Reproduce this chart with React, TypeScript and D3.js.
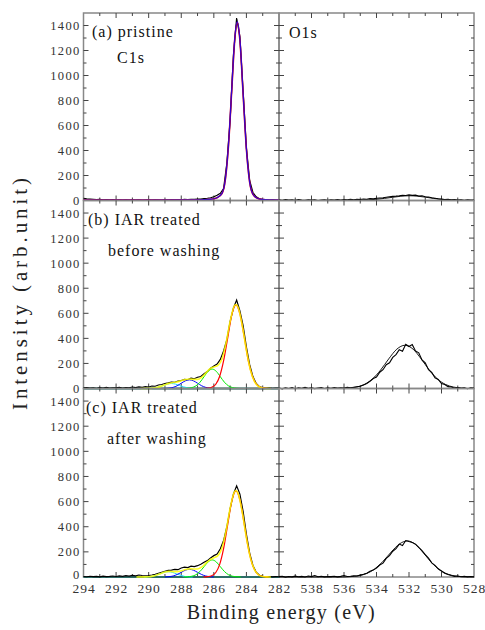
import React, { useEffect, useRef } from "react";
import * as d3 from "d3";

type Pt = [number, number];

// energy grids of the measured spectra (eV)
const c1sEnergy = [
  294.0, 293.8, 293.6, 293.4, 293.2, 293.0, 292.8, 292.6, 292.4, 292.2,
  292.0, 291.8, 291.6, 291.4, 291.2, 291.0, 290.8, 290.6, 290.4, 290.2,
  290.0, 289.8, 289.6, 289.4, 289.2, 289.0, 288.8, 288.6, 288.4, 288.2,
  288.0, 287.8, 287.6, 287.4, 287.2, 287.0, 286.8, 286.6, 286.4, 286.2,
  286.0, 285.8, 285.6, 285.4, 285.2, 285.0, 284.8, 284.6, 284.4, 284.2,
  284.0, 283.8, 283.6, 283.4, 283.2, 283.0, 282.8, 282.6, 282.4, 282.2, 282.0,
];
const o1sEnergy = [
  540.0, 539.8, 539.6, 539.4, 539.2, 539.0, 538.8, 538.6, 538.4, 538.2,
  538.0, 537.8, 537.6, 537.4, 537.2, 537.0, 536.8, 536.6, 536.4, 536.2,
  536.0, 535.8, 535.6, 535.4, 535.2, 535.0, 534.8, 534.6, 534.4, 534.2,
  534.0, 533.8, 533.6, 533.4, 533.2, 533.0, 532.8, 532.6, 532.4, 532.2,
  532.0, 531.8, 531.6, 531.4, 531.2, 531.0, 530.8, 530.6, 530.4, 530.2,
  530.0, 529.8, 529.6, 529.4, 529.2, 529.0, 528.8, 528.6, 528.4, 528.2, 528.0,
];

// measured intensities
const rawC1sA = [
  18, 14, 12, 10, 8, 9, 6, 8, 5, 7, 4, 6, 3, 5, 4, 6, 3, 5, 2, 4,
  6, 3, 5, 4, 2, 6, 4, 7, 5, 8, 6, 9, 7, 10, 9, 12, 11, 15, 18, 22,
  30, 42, 58, 95, 300, 640, 1160, 1460, 1310, 870, 420, 160, 64, 30, 14, 8, 6, 4, 5, 3, 4,
];
const rawC1sB = [
  5, 8, 3, 6, 2, 7, 4, 9, 3, 6, 5, 10, 4, 8, 6, 12, 7, 13, 9, 15,
  12, 20, 18, 28, 32, 40, 45, 52, 50, 60, 64, 72, 70, 82, 78, 90, 96, 118, 135, 162,
  180, 195, 232, 300, 390, 535, 640, 706, 620, 500, 330, 190, 95, 40, 15, 6, 3, 5, 2, 4, 3,
];
const rawC1sC = [
  4, 2, 6, 3, 5, 1, 7, 3, 5, 8, 4, 9, 5, 11, 7, 13, 9, 16, 12, 10,
  12, 16, 22, 30, 38, 45, 52, 55, 60, 58, 72, 78, 75, 86, 82, 90, 102, 118, 130, 152,
  170, 182, 225, 290, 400, 545, 660, 726, 660, 520, 340, 190, 92, 38, 14, 5, 2, 4, 1, 3, 2,
];
const rawO1sA = [
  6, 2, 8, 3, 5, 1, 7, 4, 2, 6, 3, 5, 0, 4, 6, 2, 5, 3, 7, 4,
  8, 5, 9, 6, 10, 8, 12, 10, 15, 13, 18, 20, 22, 26, 30, 33, 35, 38, 42, 40,
  45, 41, 43, 36, 38, 30, 28, 22, 18, 14, 12, 8, 10, 5, 7, 3, 6, 2, 5, 3, 4,
];
const rawO1sB = [
  4, -3, 6, 0, 8, -2, 5, 2, 9, 1, 6, -1, 4, 7, 0, 5, 2, 8, 3, 6,
  4, 9, 5, 10, 14, 18, 28, 40, 58, 80, 92, 130, 150, 190, 205, 248, 270, 310, 298, 352,
  335, 350, 300, 285, 228, 205, 150, 128, 85, 72, 40, 32, 15, 12, 4, 8, 1, 5, -2, 6, 3,
];
const rawO1sC = [
  3, 6, -1, 4, 1, 7, 2, 5, 0, 8, 3, 12, 2, 6, 1, 4, 3, 6, 1, 5,
  12, 4, 6, 10, 8, 15, 22, 30, 45, 55, 72, 95, 110, 148, 170, 205, 225, 262, 250, 290,
  282, 275, 262, 235, 210, 178, 150, 112, 92, 65, 48, 30, 20, 12, 5, 8, 2, 5, 1, 4, 2,
];

// fitted components [energy, intensity]
const fitARed: Pt[] = [[294, 3], [290, 3], [287, 5], [286.2, 10], [285.8, 22], [285.5, 55], [285.3, 160], [285.1, 440], [284.9, 885], [284.7, 1312], [284.56, 1425], [284.4, 1282], [284.2, 845], [284.0, 410], [283.8, 145], [283.6, 50], [283.3, 16], [283, 8], [282, 2]];
const fitABlue: Pt[] = [[294, 3], [290, 3], [287, 5], [286.2, 10], [285.8, 22], [285.5, 57], [285.3, 162], [285.1, 445], [284.9, 892], [284.7, 1320], [284.56, 1430], [284.4, 1288], [284.2, 850], [284.0, 412], [283.8, 146], [283.6, 50], [283.3, 16], [283, 8], [282, 2]];

const redB: Pt[] = [[286.64, 0], [286.39, 3], [286.14, 10], [285.89, 32], [285.64, 98], [285.39, 228], [285.14, 410], [284.89, 592], [284.64, 668], [284.39, 590], [284.14, 415], [283.89, 225], [283.64, 100], [283.39, 35], [283.14, 10], [282.89, 4], [282.64, 0]];
const greenB: Pt[] = [[287.85, 0], [287.6, 2], [287.35, 7], [287.1, 21], [286.85, 50], [286.6, 94], [286.35, 137], [286.1, 155], [285.85, 137], [285.6, 94], [285.35, 50], [285.1, 21], [284.85, 7], [284.6, 2], [284.35, 0]];
const blueB: Pt[] = [[289.0, 0], [288.75, 3], [288.5, 9], [288.25, 22], [288.0, 42], [287.75, 61], [287.5, 69], [287.25, 61], [287.0, 42], [286.75, 22], [286.5, 9], [286.25, 3], [286.0, 0]];
const cyanB: Pt[] = [[290.1, 0], [289.85, 2], [289.6, 5], [289.35, 13], [289.1, 24], [288.85, 35], [288.6, 40], [288.35, 35], [288.1, 24], [287.85, 13], [287.6, 5], [287.35, 2], [287.1, 0]];
const sumB: Pt[] = [[290.5, 0], [290, 1], [289.75, 3], [289.5, 8], [289.25, 17], [289, 30], [288.75, 41], [288.5, 48], [288.25, 53], [288, 62], [287.75, 71], [287.5, 76], [287.25, 73], [287, 73], [286.75, 89], [286.5, 123], [286.25, 156], [286, 172], [285.75, 184], [285.5, 236], [285.25, 364], [285, 535], [284.75, 657], [284.64, 670], [284.5, 644], [284.25, 499], [284, 304], [283.75, 146], [283.5, 55], [283.25, 16], [283, 4], [282.75, 1], [282.5, 0]];

const redC: Pt[] = [[286.64, 0], [286.39, 3], [286.14, 10], [285.89, 34], [285.64, 100], [285.39, 233], [285.14, 425], [284.89, 608], [284.64, 686], [284.39, 608], [284.14, 425], [283.89, 233], [283.64, 100], [283.39, 34], [283.14, 10], [282.89, 3], [282.64, 0]];
const greenC: Pt[] = [[287.85, 0], [287.6, 2], [287.35, 6], [287.1, 18], [286.85, 44], [286.6, 82], [286.35, 120], [286.1, 136], [285.85, 120], [285.6, 82], [285.35, 44], [285.1, 18], [284.85, 6], [284.6, 2], [284.35, 0]];
const blueC: Pt[] = [[289.0, 0], [288.75, 3], [288.5, 8], [288.25, 20], [288.0, 37], [287.75, 54], [287.5, 61], [287.25, 54], [287.0, 37], [286.75, 20], [286.5, 8], [286.25, 3], [286.0, 0]];
const cyanC: Pt[] = [[290.3, 0], [290.05, 1], [289.8, 5], [289.55, 14], [289.3, 25], [289.05, 37], [288.8, 42], [288.55, 37], [288.3, 25], [288.05, 14], [287.8, 5], [287.55, 1], [287.3, 0]];
const sumC: Pt[] = [[290.75, 0], [290.25, 1], [290, 2], [289.75, 7], [289.5, 16], [289.25, 28], [289, 40], [288.75, 45], [288.5, 43], [288.25, 43], [288, 49], [287.75, 59], [287.5, 65], [287.25, 64], [287, 64], [286.75, 79], [286.5, 108], [286.25, 137], [286, 153], [285.75, 170], [285.5, 231], [285.25, 367], [285, 547], [284.75, 674], [284.64, 688], [284.5, 661], [284.25, 512], [284, 312], [283.75, 150], [283.5, 56], [283.25, 17], [283, 4], [282.75, 1], [282.5, 0]];

const fitO1sA: Pt[] = [[540, 0], [536, 0], [535.5, 1], [535, 2], [534.5, 5], [534, 10], [533.5, 17], [533, 26], [532.5, 34], [532, 38], [531.5, 35], [531, 27], [530.5, 17], [530, 9], [529.5, 4], [529, 1], [528.5, 0], [528, 0]];
const fitO1sB: Pt[] = [[540, 0], [536.25, 0], [535.75, 3], [535.25, 11], [534.75, 32], [534.25, 76], [533.75, 147], [533.25, 236], [532.75, 314], [532.25, 345], [531.75, 314], [531.25, 236], [530.75, 147], [530.25, 76], [529.75, 32], [529.25, 11], [528.75, 3], [528.25, 0], [528, 0]];
const fitO1sC: Pt[] = [[540, 0], [536.1, 0], [535.6, 3], [535.1, 10], [534.6, 28], [534.1, 65], [533.6, 125], [533.1, 198], [532.6, 262], [532.1, 287], [531.6, 259], [531.1, 190], [530.6, 113], [530.1, 55], [529.6, 22], [529.1, 7], [528.6, 2], [528.1, 0], [528, 0]];

// axis ticks / labels
const c1sTicks = [294, 292, 290, 288, 286, 284, 282];
const o1sTicks = [538, 536, 534, 532, 530, 528];
const yTicks = [0, 200, 400, 600, 800, 1000, 1200, 1400];
const panelTitles = ["(a) pristine", "(b) IAR treated", "(c) IAR treated"];
const panelSubtitles = ["C1s", "before washing", "after washing"];
const o1sTitle = "O1s";
const xTitle = "Binding energy (eV)";
const yTitle = "Intensity (arb.unit)";

const FONT = "Liberation Serif, Times New Roman, serif";

export default function App() {
  const ref = useRef<SVGSVGElement>(null);

  useEffect(() => {
    const svg = d3.select(ref.current);
    svg.selectAll("*").remove();

    const left = 83.5, mid = 279, right = 474;
    const tops = [13, 200.5, 388.5];
    const bottoms = [200.5, 388.5, 577];

    const xC = d3.scaleLinear().domain([294, 282]).range([left, mid]);
    const xO = d3.scaleLinear().domain([540, 528]).range([mid, right]);

    const rows = [
      {
        rawC: rawC1sA, rawO: rawO1sA, fitO: fitO1sA, baseline: false,
        fits: [
          { pts: fitARed, color: "#ff0000", w: 1.6, op: 1 },
          { pts: fitABlue, color: "#0000ff", w: 1.3, op: 0.8 },
        ],
      },
      {
        rawC: rawC1sB, rawO: rawO1sB, fitO: fitO1sB, baseline: true,
        fits: [
          { pts: cyanB, color: "#22ddff", w: 1, op: 1 },
          { pts: blueB, color: "#0000ff", w: 1, op: 1 },
          { pts: greenB, color: "#00ee00", w: 1, op: 1 },
          { pts: redB, color: "#ff0000", w: 1.2, op: 1 },
          { pts: sumB, color: "#ffff00", w: 1.6, op: 0.85 },
        ],
      },
      {
        rawC: rawC1sC, rawO: rawO1sC, fitO: fitO1sC, baseline: true,
        fits: [
          { pts: cyanC, color: "#22ddff", w: 1, op: 1 },
          { pts: blueC, color: "#0000ff", w: 1, op: 1 },
          { pts: greenC, color: "#00ee00", w: 1, op: 1 },
          { pts: redC, color: "#ff0000", w: 1.2, op: 1 },
          { pts: sumC, color: "#ffff00", w: 1.6, op: 0.85 },
        ],
      },
    ];

    rows.forEach((row, i) => {
      const y = d3.scaleLinear().domain([0, 1500]).range([bottoms[i], tops[i]]);
      const lineC = d3.line<Pt>().x((d) => xC(d[0])).y((d) => y(d[1]));
      const lineO = d3.line<Pt>().x((d) => xO(d[0])).y((d) => y(d[1]));
      const smoothC = d3.line<Pt>().x((d) => xC(d[0])).y((d) => y(d[1])).curve(d3.curveMonotoneX);
      const smoothO = d3.line<Pt>().x((d) => xO(d[0])).y((d) => y(d[1])).curve(d3.curveMonotoneX);

      // frames
      [[left, mid], [mid, right]].forEach(([x0, x1]) => {
        svg.append("rect")
          .attr("x", x0).attr("y", tops[i])
          .attr("width", x1 - x0).attr("height", bottoms[i] - tops[i])
          .attr("fill", "none").attr("stroke", "#888").attr("stroke-width", 1.5);
      });

      // ticks (inward on every side)
      const tickGroup = svg.append("g").attr("stroke", "#444").attr("stroke-width", 1);
      const addX = (scale: d3.ScaleLinear<number, number>, lo: number, hi: number) => {
        d3.range(lo, hi + 0.01, 1).forEach((e) => {
          const len = Math.round(e) % 2 === 0 ? 5 : 3;
          const px = scale(e);
          tickGroup.append("line").attr("x1", px).attr("x2", px).attr("y1", bottoms[i]).attr("y2", bottoms[i] - len);
          tickGroup.append("line").attr("x1", px).attr("x2", px).attr("y1", tops[i]).attr("y2", tops[i] + len);
        });
      };
      addX(xC, 283, 293);
      addX(xO, 529, 539);
      d3.range(100, 1500, 100).forEach((v) => {
        const len = v % 200 === 0 ? 5 : 3;
        const py = y(v);
        [left, mid].forEach((x0) => {
          tickGroup.append("line").attr("x1", x0).attr("x2", x0 + len).attr("y1", py).attr("y2", py);
        });
        [mid, right].forEach((x1) => {
          tickGroup.append("line").attr("x1", x1).attr("x2", x1 - len).attr("y1", py).attr("y2", py);
        });
      });

      // y tick labels
      const yAxis = svg.append("g")
        .attr("transform", `translate(${left},0)`)
        .call(d3.axisLeft(y).tickValues(yTicks).tickSize(0).tickPadding(3).tickFormat(d3.format("d")));
      yAxis.select(".domain").remove();
      yAxis.attr("font-family", null).attr("font-size", null);
      yAxis.selectAll("text")
        .style("font-family", FONT).style("font-size", "12.5px")
        .attr("fill", "#333").style("letter-spacing", "1.3px");
      // keep the bottom "0" clear of the x labels below it
      if (i === 2) yAxis.selectAll("text").filter((d) => d === 0).attr("dy", "0.1em");

      // baseline
      if (row.baseline) {
        svg.append("path").datum([[294, 0], [282, 0]] as Pt[])
          .attr("fill", "none").attr("stroke", "#2d6d68").attr("stroke-width", 2)
          .attr("d", lineC);
      }

      // C1s raw + fits
      svg.append("path")
        .datum(d3.zip(c1sEnergy, row.rawC) as Pt[])
        .attr("fill", "none").attr("stroke", "#000").attr("stroke-width", 1.2)
        .attr("d", lineC);
      row.fits.forEach((f) => {
        svg.append("path")
          .datum(f.pts.slice().sort((a, b) => b[0] - a[0]))
          .attr("fill", "none").attr("stroke", f.color)
          .attr("stroke-width", f.w).attr("opacity", f.op)
          .attr("d", smoothC);
      });

      // O1s raw + fit
      svg.append("path")
        .datum(d3.zip(o1sEnergy, row.rawO) as Pt[])
        .attr("fill", "none").attr("stroke", "#000").attr("stroke-width", 1.1)
        .attr("d", lineO);
      svg.append("path")
        .datum(row.fitO)
        .attr("fill", "none").attr("stroke", "#000").attr("stroke-width", 0.9)
        .attr("d", smoothO);

      // panel labels
      const label = (x: number, yy: number, txt: string) =>
        svg.append("text")
          .attr("x", x).attr("y", yy)
          .style("font-family", FONT).style("font-size", "16px")
          .style("letter-spacing", "1px").attr("fill", "#111")
          .text(txt);
      label([92, 88, 86][i], tops[i] + 24, panelTitles[i]);
      label([117, 108, 107][i], tops[i] + (i === 0 ? 50 : 55), panelSubtitles[i]);
      if (i === 0) label(289, tops[i] + 25, o1sTitle);
    });

    // x tick labels
    const bottom = bottoms[2];
    [
      { scale: xC, ticks: c1sTicks },
      { scale: xO, ticks: o1sTicks },
    ].forEach(({ scale, ticks }) => {
      const ax = svg.append("g")
        .attr("transform", `translate(0,${bottom})`)
        .call(d3.axisBottom(scale).tickValues(ticks).tickSize(0).tickPadding(6).tickFormat(d3.format("d")));
      ax.select(".domain").remove();
      ax.attr("font-family", null).attr("font-size", null);
      ax.selectAll("text")
        .style("font-family", FONT).style("font-size", "13.5px")
        .attr("fill", "#333").style("letter-spacing", "1px");
    });

    // axis titles
    svg.append("text")
      .attr("x", (left + right) / 2 + 2).attr("y", 619)
      .attr("text-anchor", "middle")
      .style("font-family", FONT).style("font-size", "20px").attr("fill", "#222")
      .attr("textLength", 188).attr("lengthAdjust", "spacing")
      .text(xTitle);
    svg.append("text")
      .attr("transform", "translate(27,294) rotate(-90)")
      .attr("text-anchor", "middle")
      .style("font-family", FONT).style("font-size", "21px").attr("fill", "#222")
      .attr("textLength", 232).attr("lengthAdjust", "spacing")
      .text(yTitle);
  }, []);

  return (
    <svg
      ref={ref}
      width={485}
      height={630}
      style={{ position: "absolute", left: 0, top: 0, background: "#fff" }}
    />
  );
}
